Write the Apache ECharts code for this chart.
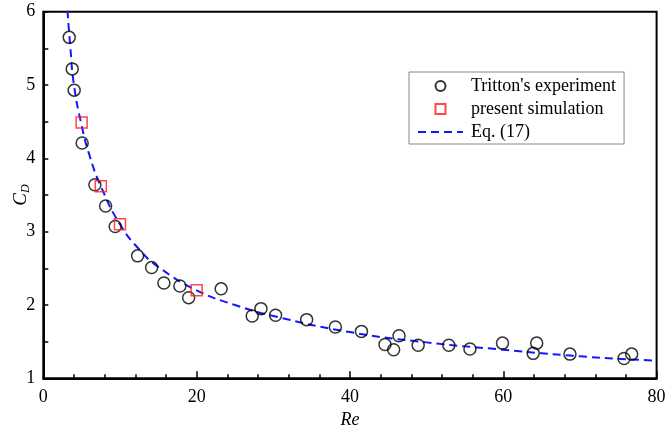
<!DOCTYPE html>
<html>
<head>
<meta charset="utf-8">
<script src="https://cdn.jsdelivr.net/npm/echarts@6/dist/echarts.min.js"></script>
<style>
  html, body { margin: 0; padding: 0; background: #fff; }
  #chart { width: 665px; height: 431px; }
</style>
</head>
<body>
<div id="chart"></div>
<script>
// Drag coefficient of a circular cylinder versus Reynolds number
const trittonRe = [3.38, 3.77, 4.03, 5.07, 6.73, 8.13, 9.38, 12.3, 14.13, 15.73, 17.82, 18.96,
  23.2, 27.25, 28.39, 30.3, 34.35, 38.1, 41.5, 44.57, 45.7, 46.4, 48.9, 52.9, 55.65, 59.9,
  63.9, 64.36, 68.7, 75.75, 76.75];
const trittonCd = [5.65, 5.22, 4.93, 4.21, 3.64, 3.35, 3.07, 2.67, 2.51, 2.30, 2.26, 2.10,
  2.22, 1.85, 1.95, 1.86, 1.80, 1.70, 1.64, 1.46, 1.39, 1.58, 1.45, 1.45, 1.40, 1.48,
  1.34, 1.48, 1.33, 1.27, 1.33];

const simRe = [5, 7.5, 10, 20];
const simCd = [4.49, 3.62, 3.10, 2.20];

const eqRe = [3.15, 3.5, 4, 5, 6, 7.5, 10, 12.5, 15, 20, 25, 30, 40, 50, 60, 70, 80];
const eqCd = [6.02, 5.55, 5.0, 4.45, 4.05, 3.62, 3.10, 2.76, 2.52, 2.20, 2.00, 1.85, 1.63, 1.49, 1.39, 1.30, 1.24];

const xTicks = [0, 20, 40, 60, 80];
const yTicks = [1, 2, 3, 4, 5, 6];

const pairs = (xs, ys) => xs.map((x, i) => [x, ys[i]]);
const serif = 'Liberation Serif';
const hidden = 'rgba(0,0,0,0)';

const chart = echarts.init(document.getElementById('chart'), null, { renderer: 'canvas' });
chart.setOption({
  backgroundColor: '#fff',
  animation: false,
  grid: {
    left: 43.3, right: 8.4, top: 11.7, bottom: 52.7,
    containLabel: false, outerBoundsMode: 'none',
    show: true, borderColor: '#000', borderWidth: 2, backgroundColor: 'transparent'
  },
  xAxis: {
    type: 'value',
    min: xTicks[0], max: xTicks[xTicks.length - 1], interval: 20,
    name: 'Re', nameLocation: 'middle', nameGap: 31,
    nameTextStyle: { fontFamily: serif, fontStyle: 'italic', fontSize: 18, color: '#000' },
    axisLine: { show: true, lineStyle: { color: '#000', width: 2 } },
    axisTick: { show: true, inside: true, length: 7, lineStyle: { color: '#000', width: 1.5 } },
    minorTick: { show: true, splitNumber: 5, length: 4, lineStyle: { color: '#000', width: 1.5 } },
    axisLabel: { fontFamily: serif, fontSize: 18, color: '#000', margin: 10 },
    splitLine: { show: false }
  },
  yAxis: {
    type: 'value',
    min: yTicks[0], max: yTicks[yTicks.length - 1], interval: 1,
    name: '{c|C}{d|D}', nameLocation: 'middle', nameGap: 11,
    nameMoveOverlap: false,
    nameTextStyle: {
      rich: {
        c: { fontFamily: serif, fontStyle: 'italic', fontSize: 19, color: '#000' },
        d: { fontFamily: serif, fontStyle: 'italic', fontSize: 12, color: '#000', padding: [10, 0, 0, 0] }
      }
    },
    axisLine: { show: true, lineStyle: { color: '#000', width: 2 } },
    axisTick: { show: true, inside: true, length: 5, lineStyle: { color: '#000', width: 1.5 } },
    minorTick: { show: true, splitNumber: 2, length: 5, lineStyle: { color: '#000', width: 1.5 } },
    axisLabel: { fontFamily: serif, fontSize: 18, color: '#000', margin: 8 },
    splitLine: { show: false }
  },
  legend: {
    orient: 'vertical',
    left: 409, top: 72,
    padding: [5, 8, 3, 8],
    itemWidth: 45, itemHeight: 10, itemGap: 5,
    symbolKeepAspect: true,
    borderColor: '#888', borderWidth: 1, backgroundColor: '#fff',
    textStyle: { fontFamily: serif, fontSize: 18, color: '#000', lineHeight: 17, padding: [0, 0, 0, 3] },
    data: [
      { name: "Tritton's experiment" },
      { name: 'present simulation', icon: 'path://M0,0H10V10H0Z' },
      { name: 'Eq. (17)', itemStyle: { color: hidden, borderColor: hidden } }
    ]
  },
  series: [
    {
      name: "Tritton's experiment",
      type: 'scatter',
      data: pairs(trittonRe, trittonCd),
      symbol: 'circle', symbolSize: 12,
      itemStyle: { color: 'transparent', borderColor: '#000', borderWidth: 1.5 },
      z: 3
    },
    {
      name: 'present simulation',
      type: 'scatter',
      data: pairs(simRe, simCd),
      symbol: 'rect', symbolSize: 11,
      itemStyle: { color: 'transparent', borderColor: '#ff1a1a', borderWidth: 1.5 },
      z: 4
    },
    {
      name: 'Eq. (17)',
      type: 'line',
      data: pairs(eqRe, eqCd),
      smooth: true,
      symbol: 'none',
      clip: true,
      lineStyle: { color: '#1515ff', width: 2, type: [8, 5] },
      itemStyle: { color: '#1515ff' },
      z: 2
    }
  ]
});
</script>
</body>
</html>
